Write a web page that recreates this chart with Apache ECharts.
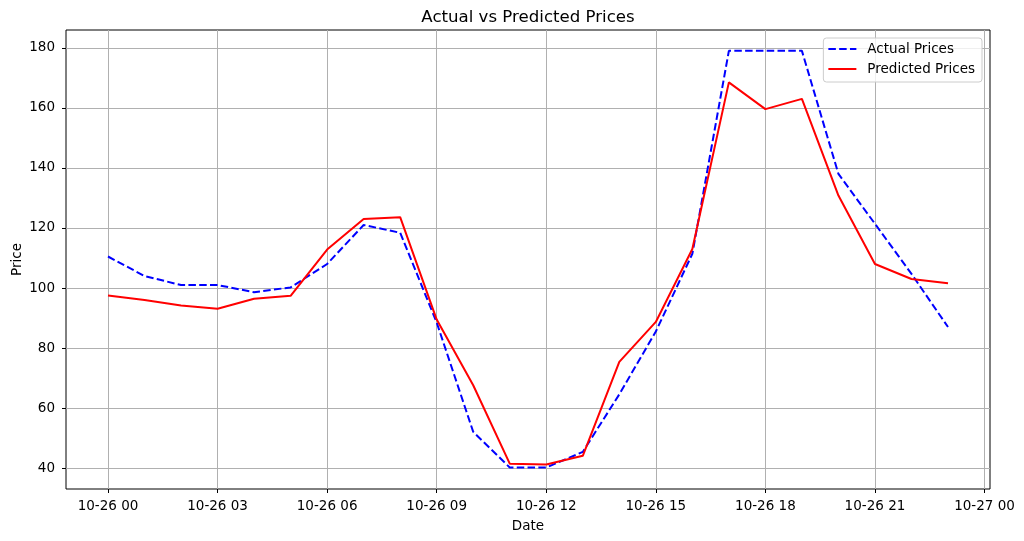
<!DOCTYPE html>
<html>
<head>
<meta charset="utf-8">
<script src="https://cdn.jsdelivr.net/npm/echarts@6/dist/echarts.min.js"></script>
<style>html,body{margin:0;padding:0;background:#fff}#c{width:1024px;height:541px}</style>
</head>
<body>
<div id="c"></div>
<script>
const hours = [0,1,2,3,4,5,6,7,8,9,10,11,12,13,14,15,16,17,18,19,20,21,22,23];
const actualPrices = [110.5,104,101,101,98.6,100.2,108,121,118.4,88.5,52.1,40.2,40.2,45.4,64.6,85.5,111.4,179,179,179,138,121.4,104.7,87];
const predictedPrices = [97.5,96,94.2,93.1,96.4,97.4,112.8,123,123.6,89.5,67.6,41.5,41.2,44.1,75.4,88.7,113,168.5,159.6,163,130.8,108,103,101.6];
const xTicks = [0,3,6,9,12,15,18,21,24];
const xTickLabels = ['10-26 00','10-26 03','10-26 06','10-26 09','10-26 12','10-26 15','10-26 18','10-26 21','10-27 00'];
const yTicks = [40,60,80,100,120,140,160,180];

const font = 'DejaVu Sans';
const fs = 13.5;
const chart = echarts.init(document.getElementById('c'), null, {renderer:'canvas'});
chart.setOption({
  animation:false,
  backgroundColor:'#fff',
  title:{text:'Actual vs Predicted Prices', left:523, top:4, textAlign:'center',
    textStyle:{fontFamily:font,fontSize:16.6,fontWeight:'normal',color:'#000'}},
  legend:{right:42, top:38, orient:'vertical', itemGap:6, itemWidth:28, itemHeight:14,
    padding:[4,7,6,4], borderColor:'#cccccc', borderWidth:1, borderRadius:3, backgroundColor:'rgba(255,255,255,0.8)',
    itemStyle:{opacity:0},
    textStyle:{fontFamily:font,fontSize:fs,color:'#000', padding:[0,0,0,6]},
    data:['Actual Prices','Predicted Prices']},
  grid:{left:66, right:34, top:30, bottom:52, show:true, borderColor:'#000', borderWidth:1, containLabel:false, outerBoundsMode:'none'},
  xAxis:{type:'value', min:-1.15, max:24.15,
    name:'Date', nameLocation:'middle', nameGap:30, nameTextStyle:{fontFamily:font,fontSize:fs,color:'#000'},
    axisLine:{show:false, onZero:false},
    axisTick:{show:true, length:4, lineStyle:{color:'#000'}, customValues:xTicks},
    axisLabel:{fontFamily:font,fontSize:fs,color:'#000', margin:10, customValues:xTicks,
      formatter:(v)=>{const i=xTicks.indexOf(Math.round(v)); return i>=0?xTickLabels[i]:'';}},
    splitLine:{show:true, lineStyle:{color:'#b0b0b0', width:1}}},
  yAxis:{type:'value', min:33.05, max:185.95,
    name:'Price', nameLocation:'middle', nameGap:42, nameRotate:90, nameMoveOverlap:false,
    nameTextStyle:{fontFamily:font,fontSize:fs,color:'#000'},
    axisLine:{show:false, onZero:false},
    axisTick:{show:true, length:4, lineStyle:{color:'#000'}, customValues:yTicks},
    axisLabel:{fontFamily:font,fontSize:fs,color:'#000', margin:11, customValues:yTicks},
    splitLine:{show:true, lineStyle:{color:'#b0b0b0', width:1}}},
  series:[
    {name:'Actual Prices', type:'line', symbol:'none', data:hours.map((h,i)=>[h,actualPrices[i]]),
      lineStyle:{color:'#0000ff', width:2, type:[7.5,3.3]}, itemStyle:{color:'#0000ff'}, z:3},
    {name:'Predicted Prices', type:'line', symbol:'none', data:hours.map((h,i)=>[h,predictedPrices[i]]),
      lineStyle:{color:'#ff0000', width:2}, itemStyle:{color:'#ff0000'}, z:4}
  ]
});
</script>
</body>
</html>
